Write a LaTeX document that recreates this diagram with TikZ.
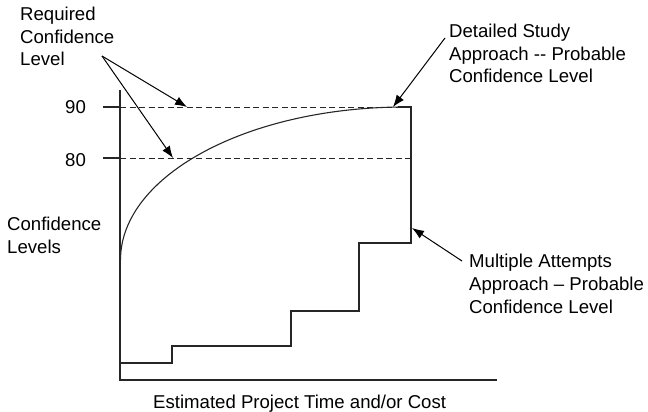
\documentclass[tikz,border=0pt]{standalone}
\usepackage{fontspec}
\setmainfont{Liberation Sans}
\usetikzlibrary{arrows.meta}
\begin{document}
\begin{tikzpicture}[x=1pt,y=-1pt,
  lbl/.style={anchor=base west,align=left,inner sep=0pt,font=\fontsize{18.6}{22.8}\selectfont},
  axisline/.style={line width=1.4pt,color=black!85},
  thinline/.style={line width=1.1pt,color=black!85},
  dashline/.style={line width=1pt,dash pattern=on 6pt off 3.5pt,color=black!85},
  ptr/.style={line width=1pt,-{Latex[length=12pt,width=9pt]}}]
\useasboundingbox (0,0) rectangle (648,412);
% axes
\coordinate (top) at (120,90);
\coordinate (orig) at (120,380);
\coordinate (xend) at (497,380);
\draw[axisline] (top) -- (orig) -- (xend);
% ticks and dashed levels
\coordinate (t90) at (103,107);
\coordinate (d90) at (411,107);
\coordinate (t80) at (103,158);
\coordinate (d80) at (411,158);
\draw[thinline] (t90) -- (120,107);
\draw[thinline] (t80) -- (120,158);
\draw[dashline] (120,107) -- (d90);
\draw[dashline] (120,158) -- (d80);
\node[lbl] (n90) at (65,113) {90};
\node[lbl] (n80) at (65,166) {80};
% curve (quarter ellipse)
\draw[thinline] (120.5,260) arc[start angle=180,end angle=270,x radius=284.5,y radius=153];
% step function
\draw[thinline] (120,363) -- (172,363) -- (172,346) -- (291,346) -- (291,311) -- (359,311) -- (359,243) -- (411,243) -- (411,107) -- (398,107);
% labels
\node[lbl] (req) at (20,66) {Required\\Confidence\\Level};
\node[lbl] (conf) at (7,253) {Confidence\\Levels};
\node[lbl] (det) at (449,83) {Detailed Study\\Approach {-}{-} Probable\\Confidence Level};
\node[lbl] (mul) at (469,313) {Multiple Attempts\\Approach – Probable\\Confidence Level};
\node[lbl] (xlab) at (153,408) {Estimated Project Time and/or Cost};
% arrows
\coordinate (reqs) at (102,56);
\coordinate (a90) at (187,107);
\coordinate (a80) at (173,158);
\draw[ptr] (reqs) -- (a90);
\draw[ptr] (reqs) -- (a80);
\coordinate (dets) at (445,38);
\coordinate (adet) at (393,107);
\draw[ptr] (dets) -- (adet);
\coordinate (muls) at (462,261);
\coordinate (amul) at (412,228);
\draw[ptr] (muls) -- (amul);
\end{tikzpicture}
\end{document}
